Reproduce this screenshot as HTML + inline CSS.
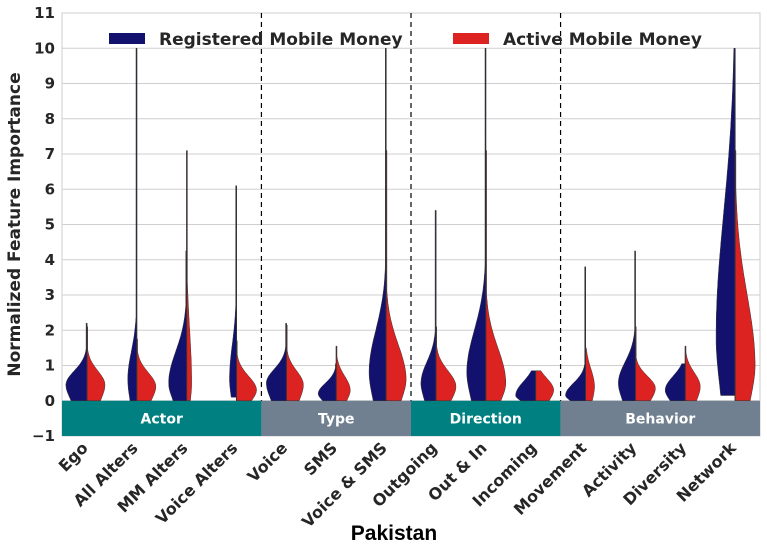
<!DOCTYPE html>
<html><head><meta charset="utf-8"><style>
body{margin:0;background:#fff;}
svg text{font-family:"DejaVu Sans","Liberation Sans",sans-serif;font-weight:bold;}
</style></head><body>
<svg id="chart" width="767" height="551" xmlns="http://www.w3.org/2000/svg"></svg>
<script>
const categories=["Ego","All Alters","MM Alters","Voice Alters","Voice","SMS","Voice & SMS","Outgoing","Out & In","Incoming","Movement","Activity","Diversity","Network"];
const regMax=[2.2,10,4.25,6.1,2.2,1.05,10,5.4,10,0.85,3.8,4.25,1.05,10];
const regMode=[0.45,0.6,0.5,0.6,0.5,0.2,0.8,0.5,0.8,0.15,0.15,0.5,0.3,1.8];
const regSpread=[0.4,0.8,0.9,1.0,0.4,0.3,1.2,0.6,1.2,0.4,0.35,0.6,0.4,3.5];
const regWidth=[21,9,18,7,20,18,17,15,19,20,20,17,20,19];
const regMin=[0,0,0,0.1,0,0,0,0,0,0,0,0,0,0.15];
const actMax=[2.1,1.75,7.1,1.7,2.15,1.55,7.1,2.1,7.1,0.85,1.5,2.1,1.55,7.1];
const actMode=[0.45,0.4,0.5,0.3,0.45,0.3,0.6,0.4,0.5,0.3,0.4,0.35,0.4,1];
const actSpread=[0.4,0.4,1.5,0.4,0.4,0.4,1.0,0.45,1.0,0.35,0.5,0.35,0.4,2];
const actWidth=[18,19,5,20,17,14,20,20,20,18,9,20,15,20];
const groups=["Actor","Type","Direction","Behavior"];
const groupSpans=[[0,4],[4,7],[7,10],[10,14]];
const yTicks=[-1,0,1,2,3,4,5,6,7,8,9,10,11];
const X0=62,X1=760,Y0=13,Y1=436;
const svg=document.getElementById('chart');
const NS="http://www.w3.org/2000/svg";
const y=v=>Y1-(v+1)*(Y1-Y0)/12;
const step=(X1-X0)/categories.length;
const xc=i=>X0+(i+0.5)*step;
function mk(t,a,p){const e=document.createElementNS(NS,t);for(const k in a)e.setAttribute(k,a[k]);(p||svg).appendChild(e);return e;}
mk('rect',{x:X0,y:Y0,width:X1-X0,height:Y1-Y0,fill:'#fff',stroke:'#ccc'});
yTicks.forEach(t=>{
 const l=mk('line',{x1:X0,x2:X1,y1:y(t),y2:y(t),stroke:'#cfcfcf','stroke-width':1});
 
 
 const tx=mk('text',{x:55,y:y(t)+5,'text-anchor':'end','font-size':15,fill:'#262626'});
 tx.textContent=t<0?'\u22121':t;
 
 
});
groups.forEach((g,k)=>{
 const [a,b]=groupSpans[k];
 const r=mk('rect',{x:X0+a*step,y:y(0),width:(b-a)*step,height:y(-1)-y(0),fill:k%2?'#708090':'#008080'});
 
 
 const t=mk('text',{x:X0+(a+b)/2*step,y:y(-0.5)+5,'text-anchor':'middle','font-size':14,fill:'#fff'});
 t.textContent=g;
 
 
 if(k>0){const d=mk('line',{x1:X0+a*step,x2:X0+a*step,y1:Y0,y2:y(0),stroke:'#000','stroke-dasharray':'5,4','stroke-width':1.2});
 
 }
});
function half(i,mx,mode,sd,w,mn,side,color,name){
 const c=xc(i);const pts=[];const N=80;
 for(let s=0;s<=N;s++){const v=mn+(mx-mn)*s/N;
  let ww;
  if(v>=mode)ww=w*Math.exp(-0.5*Math.pow((v-mode)/sd,2));
  else ww=w*(0.55+0.45*Math.exp(-0.5*Math.pow((v-mode)/(Math.max(mode-mn,0.05)*0.8),2)));
  ww=Math.max(ww,0.8);
  pts.push([c+side*ww,y(v)]);}
 let d=`M${c},${y(mn)} `+pts.map(p=>`L${p[0].toFixed(1)},${p[1].toFixed(1)}`).join(' ')+` L${c},${y(mx)} Z`;
 const p=mk('path',{d:d,fill:color,stroke:'#333','stroke-width':0.5});
 
 
}
categories.forEach((c,i)=>{
 half(i,regMax[i],regMode[i],regSpread[i],regWidth[i],regMin[i],-1,'#12126e','violin-registered-'+i);
 half(i,actMax[i],actMode[i],actSpread[i],actWidth[i],0,1,'#dd2222','violin-active-'+i);
 mk('line',{x1:xc(i),x2:xc(i),y1:y(0),y2:y(Math.max(regMax[i],actMax[i])),stroke:'#333','stroke-width':1});
 const t=mk('text',{x:0,y:0,'text-anchor':'end','font-size':16,fill:'#262626',transform:`translate(${xc(i)+2},${449}) rotate(-45)`});
 t.textContent=c;
 
 
});
const yt=mk('text',{x:0,y:0,'text-anchor':'middle','font-size':17,fill:'#262626',transform:`translate(20,${(Y0+Y1)/2}) rotate(-90)`});
yt.textContent='Normalized Feature Importance';


const xt=mk('text',{x:394,y:540,'text-anchor':'middle','font-size':21,fill:'#000',style:'font-family:"Liberation Sans",sans-serif'});
xt.textContent='Pakistan';


const legend=[['Registered Mobile Money','#12126e',109],['Active Mobile Money','#dd2222',453]];
legend.forEach(l=>{
 const r=mk('rect',{x:l[2],y:33,width:36,height:11,fill:l[1]});
 
 
 const t=mk('text',{x:l[2]+50,y:45,'font-size':17,fill:'#262626'});
 t.textContent=l[0];
 
 
});
</script>
</body></html>
